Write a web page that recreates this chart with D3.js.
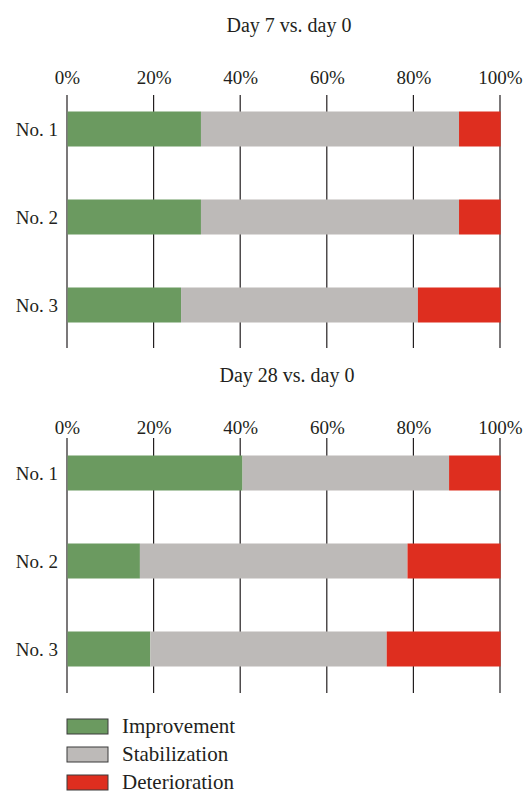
<!DOCTYPE html>
<html>
<head>
<meta charset="utf-8">
<script src="https://cdn.jsdelivr.net/npm/d3@7"></script>
<style>
  body { margin: 0; background: #fff; }
  text { font-family: "Liberation Serif", "DejaVu Serif", serif; fill: #231f20; }
</style>
</head>
<body>
<svg class="chart" width="524" height="794"></svg>
<script>
/**********************
 Data (percent of patients)
**********************/
var groups = ['No. 1', 'No. 2', 'No. 3'];
var seriesNames = ['Improvement', 'Stabilization', 'Deterioration'];
var seriesColors = ['#6b9a60', '#bdbab8', '#de2e1f'];
var tickValues = [0, 20, 40, 60, 80, 100];

var panelTitles = ['Day 7 vs. day 0', 'Day 28 vs. day 0'];

// day 7 vs day 0
var day7Improvement   = [30.8, 30.8, 26.2];
var day7Stabilization = [59.6, 59.6, 54.7];
var day7Deterioration = [9.6, 9.6, 19.1];

// day 28 vs day 0
var day28Improvement   = [40.4, 16.7, 19.1];
var day28Stabilization = [47.7, 61.8, 54.6];
var day28Deterioration = [11.9, 21.5, 26.3];

/**********************
 Layout
**********************/
var svg = d3.select('svg.chart');
var padding = {l: 67, r: 24};
var chartWidth = 524 - padding.l - padding.r;

var xScale = d3.scaleLinear().domain([0, 100]).range([0, chartWidth]);

var panels = [
  {top: 0,   title: panelTitles[0], series: [day7Improvement, day7Stabilization, day7Deterioration]},
  {top: 350, title: panelTitles[1], series: [day28Improvement, day28Stabilization, day28Deterioration]}
];

function buildRows(series) {
  return groups.map(function(g, i) {
    var row = {group: g};
    seriesNames.forEach(function(s, j) { row[s] = series[j][i]; });
    return row;
  });
}

var stack = d3.stack().keys(seriesNames);

panels.forEach(function(p, pi) {
  var g = svg.append('g')
    .attr('transform', 'translate(' + [padding.l, p.top] + ')');

  var gridTop = pi === 0 ? 95 : 88;
  var gridBottom = pi === 0 ? 348 : 343;
  var barTop = pi === 0 ? 111.5 : 105.5;

  // band step = 88, band width = 35
  var yScale = d3.scaleBand()
    .domain(groups)
    .range([barTop, barTop + 88 * 3 - 53])
    .paddingInner(53 / 88)
    .paddingOuter(0)
    .align(0);

  // title
  g.append('text')
    .attr('x', pi === 0 ? 222 : 220)
    .attr('y', 32)
    .attr('text-anchor', 'middle')
    .style('font-size', '20px')
    .text(p.title);

  // top axis labels
  var axis = d3.axisTop(xScale)
    .tickValues(tickValues)
    .tickFormat(function(d) { return d + '%'; })
    .tickSize(0);

  var axisG = g.append('g')
    .attr('transform', 'translate(0,84)')
    .call(axis);
  axisG.select('.domain').remove();
  axisG.selectAll('text')
    .attr('y', 0)
    .attr('dy', 0)
    .style('font-size', '19px')
    .style('font-family', '"Liberation Serif", "DejaVu Serif", serif')
    .attr('fill', '#231f20');

  // long tick lines running through the panel
  g.selectAll('line.grid')
    .data(tickValues)
    .enter()
    .append('line')
    .attr('class', 'grid')
    .attr('x1', function(d) { return xScale(d); })
    .attr('x2', function(d) { return xScale(d); })
    .attr('y1', gridTop)
    .attr('y2', gridBottom)
    .attr('stroke', '#231f20')
    .attr('stroke-width', 1.2);

  // stacked bars
  var stacked = stack(buildRows(p.series));
  g.selectAll('g.layer')
    .data(stacked)
    .enter()
    .append('g')
    .attr('class', 'layer')
    .attr('fill', function(d, i) { return seriesColors[i]; })
    .selectAll('rect')
    .data(function(d) { return d; })
    .enter()
    .append('rect')
    .attr('x', function(d) { return xScale(d[0]) + 0.6; })
    .attr('width', function(d) { return xScale(d[1]) - xScale(d[0]); })
    .attr('y', function(d) { return yScale(d.data.group); })
    .attr('height', yScale.bandwidth());

  // category labels
  g.selectAll('text.cat')
    .data(groups)
    .enter()
    .append('text')
    .attr('class', 'cat')
    .attr('x', -9)
    .attr('y', function(d) { return yScale(d) + yScale.bandwidth() / 2; })
    .attr('dy', '0.35em')
    .attr('text-anchor', 'end')
    .style('font-size', '19px')
    .text(function(d) { return d; });
});

/**********************
 Legend
**********************/
var legend = svg.append('g').attr('transform', 'translate(67,719)');
var legendItems = legend.selectAll('g')
  .data(seriesNames)
  .enter()
  .append('g')
  .attr('transform', function(d, i) { return 'translate(0,' + (i * 28) + ')'; });

legendItems.append('rect')
  .attr('width', 41)
  .attr('height', 15)
  .attr('fill', function(d, i) { return seriesColors[i]; })
  .attr('stroke', '#3a3a3a')
  .attr('stroke-width', 1);

legendItems.append('text')
  .attr('x', 55)
  .attr('y', 14)
  .style('font-size', '21px')
  .text(function(d) { return d; });
</script>
</body>
</html>
